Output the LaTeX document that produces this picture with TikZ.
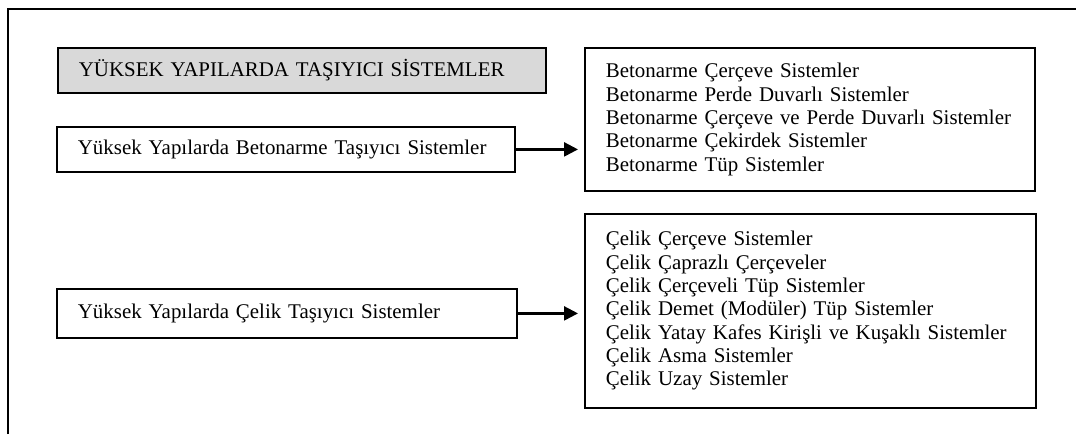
\documentclass[tikz,border=0pt]{standalone}
\usepackage{fontspec}
\setmainfont{Liberation Serif}
\usetikzlibrary{arrows.meta}
\newcommand{\oneline}[1]{\mbox{#1}}
\begin{document}
\begin{tikzpicture}[x=1pt,y=-1pt,
  frame/.style={line width=1.8pt},
  boxnode/.style={draw, line width=1.8pt, anchor=north west, inner xsep=21pt,
    inner ysep=0pt, align=left, font=\fontsize{20.9}{23.3}\selectfont},
  link/.style={line width=2.4pt, -{Triangle[length=14pt,width=14pt]}, shorten >=6pt}]
\useasboundingbox (0,0) rectangle (1076,434);
% page frame: top and left rules
\draw[frame] (8,434) -- (8,9) -- (1076,9);
% heading
\node[boxnode, fill=gray!30, minimum height=45pt, text width=446pt] (title) at (57,47)
  {\oneline{YÜKSEK YAPILARDA TAŞIYICI SİSTEMLER}};
% main categories
\node[boxnode, minimum height=45pt, text width=416pt] (beton) at (56,126)
  {\oneline{Yüksek Yapılarda Betonarme Taşıyıcı Sistemler}};
\node[boxnode, minimum height=49pt, text width=418pt] (celik) at (56,288)
  {\oneline{Yüksek Yapılarda Çelik Taşıyıcı Sistemler}};
% sub-systems
\node[boxnode, minimum height=143pt, text width=408pt] (betonlist) at (584,47)
  {\oneline{Betonarme Çerçeve Sistemler}\\
   \oneline{Betonarme Perde Duvarlı Sistemler}\\
   \oneline{Betonarme Çerçeve ve Perde Duvarlı Sistemler}\\
   \oneline{Betonarme Çekirdek Sistemler}\\
   \oneline{Betonarme Tüp Sistemler}};
\node[boxnode, minimum height=194pt, text width=409pt] (celiklist) at (584,213)
  {\oneline{Çelik Çerçeve Sistemler}\\
   \oneline{Çelik Çaprazlı Çerçeveler}\\
   \oneline{Çelik Çerçeveli Tüp Sistemler}\\
   \oneline{Çelik Demet (Modüler) Tüp Sistemler}\\
   \oneline{Çelik Yatay Kafes Kirişli ve Kuşaklı Sistemler}\\
   \oneline{Çelik Asma Sistemler}\\
   \oneline{Çelik Uzay Sistemler}};
% connectors
\draw[link] (beton.east) -- (betonlist.west |- beton.east);
\draw[link] (celik.east) -- (celiklist.west |- celik.east);
\end{tikzpicture}
\end{document}
